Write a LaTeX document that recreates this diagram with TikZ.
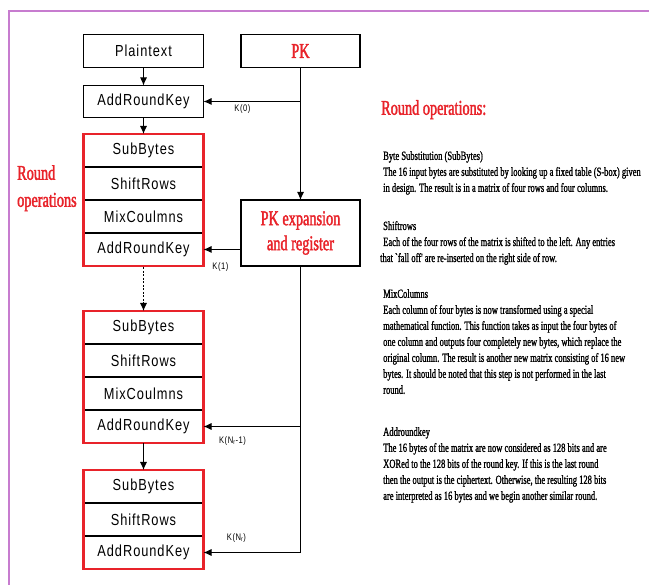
\documentclass[tikz,border=0pt]{standalone}
\usepackage{fontspec}
\usepackage{xcolor}
\usepackage{tikz}
\usetikzlibrary{positioning,fit,arrows.meta}
\newfontfamily\boxfont[FakeStretch=0.8,LetterSpace=6]{Liberation Sans}
\newfontfamily\narrowserif[FakeStretch=0.68,FakeBold=1.2]{Liberation Serif}
\newfontfamily\narrowtitle[FakeStretch=0.68,FakeBold=1.8]{Liberation Serif}
\definecolor{aesred}{HTML}{E8232A}
\definecolor{framepurple}{HTML}{C77CCF}

\begin{document}
\begin{tikzpicture}[x=1pt, y=-1pt,
    cell/.style={rectangle, draw, line width=1.2pt, minimum width=120pt, minimum height=33pt, inner sep=0pt, outer sep=0pt, font=\boxfont\fontsize{16}{18}\selectfont},
    redframe/.style={draw=aesred, line width=2.6pt, inner sep=0pt},
    arrow/.style={-{Latex[length=8pt,width=7pt]}, line width=0.9pt},
    klabel/.style={font=\boxfont\fontsize{9.5}{11}\selectfont, inner sep=0pt},
    title/.style={text=aesred, font=\narrowtitle\fontsize{21}{25}\selectfont, align=center},
    desc/.style={font=\narrowserif\fontsize{12.5}{16}\selectfont, align=left, anchor=north west, inner sep=0pt}]

    \useasboundingbox (0,0) rectangle (649,585);
    \draw[framepurple, line width=1.5pt] (649,11) -- (9,11) -- (9,585);

    \node[cell] (plain) at (143.5,51) {Plaintext};
    \node[cell, minimum width=119pt, title] (pk) at (300.5,51) {PK};
    \node[cell, minimum height=32pt] (ark0) at (143.5,101.5) {AddRoundKey};

    % first round
    \node[cell, anchor=north] (sb1) at (143.5,134) {SubBytes};
    \node[cell, below=0pt of sb1] (sr1) {ShiftRows};
    \node[cell, below=0pt of sr1] (mc1) {MixCoulmns};
    \node[cell, below=0pt of mc1] (ark1) {AddRoundKey};
    \node[redframe, fit=(sb1)(ark1)] (round1) {};

    % round N_r - 1
    \node[cell, anchor=north] (sb2) at (143.5,311) {SubBytes};
    \node[cell, below=0pt of sb2] (sr2) {ShiftRows};
    \node[cell, below=0pt of sr2] (mc2) {MixCoulmns};
    \node[cell, below=0pt of mc2] (ark2) {AddRoundKey};
    \node[redframe, fit=(sb2)(ark2)] (round2) {};

    % last round
    \node[cell, anchor=north] (sb3) at (143.5,470) {SubBytes};
    \node[cell, below=0pt of sb3] (sr3) {ShiftRows};
    \node[cell, below=0pt of sr3] (ark3) {AddRoundKey};
    \node[redframe, fit=(sb3)(ark3)] (round3) {};

    \node[cell, minimum width=119pt, minimum height=66pt, title] (pkexp) at (300.5,233) {PK expansion\\and register};
    \node[title, align=left, anchor=north west, inner sep=0pt, font=\narrowtitle\fontsize{21}{27}\selectfont] (roundlbl) at (17,165) {Round\\operations};

    \draw[arrow] (plain) -- (ark0);
    \draw[arrow] (ark0) -- (sb1);
    \draw[arrow, dash pattern=on 2pt off 1.5pt] (round1) -- (sb2);
    \draw[arrow] (ark2) -- (sb3);
    \draw[arrow] (pk) -- (pkexp);
    \draw[arrow] (pk.south |- ark0.east) -- (ark0.east);
    \draw[arrow] (pkexp.west |- ark1.east) -- (ark1.east);
    \draw[arrow] (pkexp.south |- ark2.east) -- (ark2.east);
    \draw[arrow] (pkexp.south) |- (ark3.east);

    \node[klabel] (k0) at (242.5,109) {K(0)};
    \node[klabel] (k1) at (220.5,267) {K(1)};
    \node[klabel] (knr1) at (232.5,441) {K(N\textsubscript{r}-1)};
    \node[klabel] (knr) at (236.5,538) {K(N\textsubscript{r})};

    % right column
    \node[title, anchor=north west, inner sep=0pt] (optitle) at (381,100) {Round operations:};
    \node[desc] (subtxt) at (383,151) {Byte Substitution (SubBytes)\\The 16 input bytes are substituted by looking up a fixed table (S-box) given\\in design. The result is in a matrix of four rows and four columns.};
    \node[desc] (shifttxt) at (383,221) {Shiftrows\\Each of the four rows of the matrix is shifted to the left. Any entries\\\hspace{-3pt}that `fall off' are re-inserted on the right side of row.};
    \node[desc] (mixtxt) at (383,289) {MixColumns\\Each column of four bytes is now transformed using a special\\mathematical function. This function takes as input the four bytes of\\one column and outputs four completely new bytes, which replace the\\original column. The result is another new matrix consisting of 16 new\\bytes. It should be noted that this step is not performed in the last\\round.};
    \node[desc] (addtxt) at (383,427) {Addroundkey\\The 16 bytes of the matrix are now considered as 128 bits and are\\XORed to the 128 bits of the round key. If this is the last round\\then the output is the ciphertext. Otherwise, the resulting 128 bits\\are interpreted as 16 bytes and we begin another similar round.};
\end{tikzpicture}
\end{document}
